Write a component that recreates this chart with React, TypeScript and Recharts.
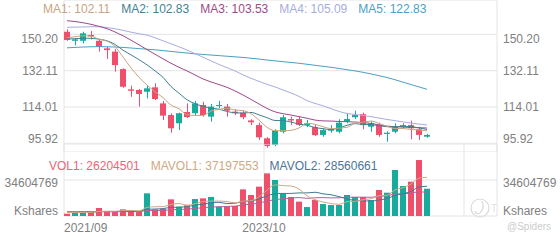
import React from "react";
import { ComposedChart, Bar, Line, XAxis, YAxis, CartesianGrid, Cell } from "recharts";

const months = [
  "2021/09", "2021/10", "2021/11", "2021/12",
  "2022/01", "2022/02", "2022/03", "2022/04", "2022/05", "2022/06", "2022/07", "2022/08", "2022/09", "2022/10", "2022/11", "2022/12",
  "2023/01", "2023/02", "2023/03", "2023/04", "2023/05", "2023/06", "2023/07", "2023/08", "2023/09", "2023/10", "2023/11", "2023/12",
  "2024/01", "2024/02", "2024/03", "2024/04", "2024/05", "2024/06", "2024/07", "2024/08", "2024/09", "2024/10", "2024/11", "2024/12",
  "2025/01", "2025/02", "2025/03", "2025/04", "2025/05", "2025/06",
];

const openP = [151.5, 147.0, 147.0, 149.9, 147.0, 143.2, 141.6, 132.9, 122.8, 122.5, 121.6, 123.8, 115.8, 110.0, 105.9, 111.5, 110.9, 115.0, 109.2, 114.5, 114.2, 111.7, 111.2, 107.3, 105.0, 98.4, 95.1, 101.7, 108.0, 108.0, 105.0, 104.0, 100.1, 102.2, 101.7, 106.7, 108.9, 110.4, 104.2, 105.0, 100.6, 101.7, 104.2, 105.0, 102.9, 99.2];
const highP = [152.7, 148.4, 151.5, 151.9, 147.7, 144.0, 142.8, 133.3, 124.6, 123.0, 124.6, 125.8, 117.0, 110.9, 111.2, 115.8, 117.1, 116.6, 115.5, 117.1, 115.5, 113.0, 112.0, 107.9, 106.2, 99.0, 102.9, 110.0, 109.2, 109.2, 107.5, 105.0, 103.3, 105.0, 107.9, 110.9, 112.2, 111.2, 106.8, 106.2, 101.9, 105.9, 105.9, 107.2, 104.2, 100.6];
const lowP = [147.0, 144.7, 145.7, 147.7, 141.6, 137.9, 131.6, 123.6, 119.1, 114.2, 118.3, 117.5, 107.5, 101.2, 102.5, 108.5, 110.0, 109.2, 106.7, 113.4, 109.2, 110.0, 107.9, 105.0, 97.6, 93.8, 94.5, 100.9, 105.0, 104.5, 104.0, 99.6, 99.2, 101.2, 100.9, 105.9, 108.0, 102.9, 101.7, 99.2, 96.7, 100.9, 103.4, 97.9, 97.6, 98.7];
const closeP = [147.4, 147.7, 150.7, 149.2, 144.0, 142.4, 134.9, 124.1, 122.1, 120.5, 123.3, 118.0, 109.7, 103.4, 110.9, 109.0, 115.8, 110.0, 114.2, 115.0, 112.2, 110.9, 108.9, 106.4, 98.9, 94.6, 102.2, 108.9, 107.3, 105.1, 105.9, 100.0, 102.5, 102.9, 106.2, 108.0, 110.0, 105.0, 105.9, 100.1, 101.2, 104.2, 105.0, 103.4, 100.1, 100.1];

const ma1 = [148.5, 149.0, 149.5, 149.3, 147.8, 146.8, 144.2, 138.9, 133.5, 128.8, 125.0, 121.6, 118.7, 115.0, 113.1, 110.2, 109.8, 109.8, 112.0, 112.8, 113.4, 112.5, 112.2, 110.7, 107.5, 103.9, 102.2, 102.2, 102.4, 103.6, 105.9, 105.4, 104.2, 103.3, 103.5, 103.9, 105.9, 106.4, 107.0, 105.8, 104.4, 103.3, 103.3, 102.8, 102.6, 102.11];
const ma2 = [147.9, 148.0, 148.3, 148.2, 147.8, 147.0, 145.2, 142.3, 140.0, 137.6, 135.0, 132.0, 128.8, 124.2, 120.9, 117.6, 115.7, 114.3, 113.5, 112.9, 111.8, 111.1, 111.0, 111.3, 110.1, 108.7, 107.3, 107.2, 106.5, 105.5, 104.9, 103.8, 103.2, 102.8, 103.6, 104.9, 105.7, 105.3, 105.2, 104.7, 104.2, 104.1, 104.3, 104.2, 103.6, 102.83];
const ma3 = [157.0, 156.6, 156.0, 155.2, 154.2, 153.0, 151.4, 149.5, 147.3, 145.0, 142.6, 140.3, 138.0, 135.8, 133.8, 132.0, 130.0, 128.0, 126.5, 125.2, 123.8, 122.0, 120.0, 117.8, 115.5, 113.3, 111.6, 110.7, 110.0, 109.2, 108.4, 107.5, 107.1, 107.0, 106.8, 106.7, 106.5, 106.3, 105.8, 105.1, 104.5, 104.2, 104.0, 103.8, 103.7, 103.53];
const ma4 = [153.7, 153.8, 153.9, 154.0, 154.0, 153.6, 153.0, 152.2, 151.3, 150.5, 149.8, 148.5, 147.0, 145.5, 144.0, 142.4, 140.6, 138.8, 137.0, 135.2, 133.6, 132.0, 130.0, 128.3, 126.8, 125.3, 124.0, 122.5, 121.0, 119.3, 117.2, 115.8, 114.6, 113.2, 111.8, 110.8, 110.3, 109.8, 109.2, 108.5, 107.8, 107.2, 106.6, 106.0, 105.5, 105.09];
const ma5 = [143.5, 143.7, 143.9, 144.0, 144.1, 144.0, 143.9, 143.7, 143.4, 143.1, 142.8, 142.5, 142.1, 141.7, 141.3, 140.9, 140.5, 140.2, 139.9, 139.6, 139.3, 139.0, 138.7, 138.3, 137.9, 137.4, 137.0, 136.6, 136.2, 135.8, 135.3, 134.8, 134.3, 133.8, 133.2, 132.6, 132.0, 131.3, 130.5, 129.6, 128.7, 127.6, 126.4, 125.2, 124.0, 122.83];

// volumes in millions of shares
const volumeM = [2.2, 3.8, 3.8, 3.8, 7.7, 3.8, 3.8, 6.4, 5.4, 4.5, 21.8, 6.4, 7.0, 16.0, 9.0, 10.9, 16.3, 17.0, 18.3, 9.0, 9.0, 9.6, 25.6, 20.2, 28.2, 41.0, 34.6, 21.8, 18.3, 13.8, 8.6, 15.4, 11.5, 10.6, 10.6, 20.2, 18.3, 18.3, 15.4, 25.0, 22.4, 44.2, 28.8, 33.0, 53.8, 26.204501];
const mavol1 = [3.4, 3.3, 3.4, 3.5, 4.3, 4.6, 4.6, 5.1, 5.4, 4.8, 8.4, 8.9, 9.0, 11.1, 12.0, 9.9, 11.8, 13.8, 14.3, 14.3, 13.9, 12.6, 14.3, 14.7, 18.5, 24.9, 29.9, 29.2, 28.8, 25.9, 19.4, 15.6, 13.5, 12.0, 11.3, 13.7, 14.2, 15.6, 16.6, 19.4, 19.9, 25.1, 27.2, 30.7, 36.4, 37.197553];
const mavol2 = [3.8, 3.8, 3.9, 3.9, 4.2, 4.3, 4.3, 4.5, 4.6, 4.6, 6.5, 6.7, 7.1, 8.3, 8.4, 9.1, 10.4, 11.4, 12.7, 13.2, 11.9, 12.2, 14.1, 14.5, 16.4, 19.4, 21.3, 21.7, 21.7, 22.2, 22.2, 22.8, 21.3, 20.4, 18.6, 16.5, 14.9, 14.6, 14.3, 15.4, 16.8, 19.7, 21.4, 23.6, 27.9, 28.560661];
const mavol3 = [4.0, 4.0, 4.0, 4.0, 4.1, 4.1, 4.1, 4.2, 4.2, 4.3, 5.2, 5.3, 5.4, 6.0, 6.3, 6.6, 7.3, 7.9, 8.6, 8.9, 9.2, 9.5, 10.6, 11.4, 12.4, 14.3, 15.8, 16.6, 17.2, 17.7, 17.0, 17.5, 17.7, 17.4, 17.5, 18.0, 18.1, 18.1, 18.0, 18.8, 19.5, 21.2, 21.4, 22.0, 23.3, 22.6];

const priceTicks = [95.92, 114.01, 132.11, 150.2];
const priceDomain = [91.59, 167.32];
const volumeTicks = [0, 34.604769];
const volumeDomain = [0, 69.209538];
const labelEvery = 25;
const slotCount = 54.125;

const FONT = "'Liberation Sans', Arial, Helvetica, sans-serif";
const AXIS_COLOR = "#808080";
const GRID = "#e4e4e4";
const UP = "#17ab9b";
const DOWN = "#f04f6c";
const C_MA1 = "#c9a47f";
const C_MA2 = "#3f8293";
const C_MA3 = "#a04a87";
const C_MA4 = "#a6addf";
const C_MA5 = "#4c9fc5";
const C_VOL = "#ec6478";
const C_MAVOL1 = "#cfa983";
const C_MAVOL2 = "#4b7596";
const C_MAVOL3 = "#b4629a";

const data = months.map((m, i) => ({
  x: i,
  month: m,
  open: openP[i],
  high: highP[i],
  low: lowP[i],
  close: closeP[i],
  ma1: ma1[i],
  ma2: ma2[i],
  ma3: ma3[i],
  ma4: ma4[i],
  ma5: ma5[i],
  vol: volumeM[i],
  mavol1: mavol1[i],
  mavol2: mavol2[i],
  mavol3: mavol3[i],
}));

// slot edges (left edge of candle) as x grid / label positions
const edgeOffset = 0.375;
const xDomain = [-edgeOffset, slotCount - edgeOffset];
const xTicks = [0, labelEvery, labelEvery * 2].map((i) => i - edgeOffset).concat([slotCount - edgeOffset]);

const last = (a: number[]) => a[a.length - 1];

const Candle = (props: any) => {
  const { x, y, width, height, payload } = props;
  if (!payload || height == null) return null;
  const { open, close, high, low } = payload;
  const up = close >= open;
  const color = up ? UP : DOWN;
  const ratio = height / (high - low);
  const bodyTop = y + (high - Math.max(open, close)) * ratio;
  const bodyH = Math.max(1, Math.abs(open - close) * ratio);
  const cx = Math.floor(x + width / 2) + 0.5;
  return (
    <g>
      <line x1={cx} x2={cx} y1={y} y2={y + height} stroke={color} strokeWidth={1} />
      <rect x={x} y={bodyTop} width={width} height={bodyH} fill={color} />
    </g>
  );
};

const makeYTick = (anchor: "start" | "end", kind: "price" | "vol") => (props: any) => {
  const { x, y, payload } = props;
  const v = payload.value;
  let dy = 4.3;
  let label = "";
  if (kind === "price") {
    label = Number(v).toFixed(2);
    if (v === priceTicks[0]) dy = 0;
    else if (v === priceTicks[priceTicks.length - 1]) dy = 8.4;
  } else {
    if (v === 0) {
      label = "Kshares";
      dy = -1.5;
    } else {
      label = String(Math.round(v * 1e6));
      dy = 6.7;
    }
  }
  return (
    <text x={x} y={y + dy} textAnchor={anchor} fontSize={12} fontFamily={FONT} fill={AXIS_COLOR}>
      {label}
    </text>
  );
};

const XTick = (props: any) => {
  const { x, y, payload } = props;
  const idx = Math.round(payload.value + edgeOffset);
  const label = idx < months.length && idx >= 0 && Math.abs(payload.value + edgeOffset - idx) < 0.01 ? months[idx] : "";
  if (!label) return null;
  return (
    <text x={x} y={y + 15.7} textAnchor={idx === 0 ? "start" : "middle"} fontSize={12} fontFamily={FONT} fill={AXIS_COLOR}>
      {label}
    </text>
  );
};

const legendRow = (items: { text: string; color: string }[], left: number, top: number) => (
  <div
    style={{
      position: "absolute",
      left,
      top,
      display: "flex",
      gap: 11,
      whiteSpace: "nowrap",
      fontFamily: FONT,
      fontSize: 12,
      lineHeight: "14px",
      pointerEvents: "none",
    }}
  >
    {items.map((it) => (
      <span key={it.text} style={{ color: it.color }}>
        {it.text}
      </span>
    ))}
  </div>
);

export default function App() {
  const maLegend = [
    { text: `MA1: ${last(ma1).toFixed(2)}`, color: C_MA1 },
    { text: `MA2: ${last(ma2).toFixed(2)}`, color: C_MA2 },
    { text: `MA3: ${last(ma3).toFixed(2)}`, color: C_MA3 },
    { text: `MA4: ${last(ma4).toFixed(2)}`, color: C_MA4 },
    { text: `MA5: ${last(ma5).toFixed(2)}`, color: C_MA5 },
  ];
  const volLegend = [
    { text: `VOL1: ${Math.round(last(volumeM) * 1e6)}`, color: C_VOL },
    { text: `MAVOL1: ${Math.round(last(mavol1) * 1e6)}`, color: C_MAVOL1 },
    { text: `MAVOL2: ${Math.round(last(mavol2) * 1e6)}`, color: C_MAVOL2 },
  ];

  return (
    <div style={{ position: "absolute", left: 0, top: 0, width: 560, height: 240, background: "#fff", overflow: "hidden" }}>
      {/* watermark */}
      <svg width={560} height={240} style={{ position: "absolute", left: 0, top: 0 }}>
        <circle cx={480} cy={208} r={9} fill="none" stroke="#dadada" strokeWidth={1.2} />
        <path d="M 482 201 Q 485 208 480 213 Q 476 215 475 211" fill="none" stroke="#dadada" strokeWidth={1.2} />
        <text x={491} y={212} fontSize={10} fontFamily={FONT} fill="#e2e2e2">T</text>
        <text x={507} y={230} fontSize={10} fontFamily={FONT} fill="#cbcbcb">@Spiders</text>
      </svg>

      <div style={{ position: "absolute", left: 0, top: 0 }}>
        <ComposedChart width={560} height={152} data={data} margin={{ top: 0, right: 0, bottom: 0, left: 0 }}>
          <CartesianGrid stroke={GRID} yAxisId="p" />
          <XAxis
            dataKey="x"
            type="number"
            domain={xDomain}
            ticks={xTicks}
            allowDataOverflow
            height={0}
            tick={false}
            axisLine={false}
            tickLine={false}
          />
          <YAxis
            yAxisId="p"
            orientation="left"
            width={64}
            domain={priceDomain}
            ticks={priceTicks}
            allowDataOverflow
            axisLine={false}
            tickLine={false}
            tickSize={0}
            tickMargin={6}
            interval={0}
            tick={makeYTick("end", "price")}
          />
          <YAxis
            yAxisId="pr"
            orientation="right"
            width={63}
            domain={priceDomain}
            ticks={priceTicks}
            allowDataOverflow
            axisLine={false}
            tickLine={false}
            tickSize={0}
            tickMargin={6}
            interval={0}
            tick={makeYTick("start", "price")}
          />
          <Bar
            yAxisId="p"
            dataKey={(d: any) => [d.low, d.high]}
            barSize={6}
            isAnimationActive={false}
            shape={(p: any) => <Candle {...p} />}
          />
          <Line yAxisId="p" dataKey="ma5" stroke={C_MA5} strokeWidth={1} dot={false} type="monotone" isAnimationActive={false} />
          <Line yAxisId="p" dataKey="ma4" stroke={C_MA4} strokeWidth={1} dot={false} type="monotone" isAnimationActive={false} />
          <Line yAxisId="p" dataKey="ma3" stroke={C_MA3} strokeWidth={1} dot={false} type="monotone" isAnimationActive={false} />
          <Line yAxisId="p" dataKey="ma2" stroke={C_MA2} strokeWidth={1} dot={false} type="monotone" isAnimationActive={false} />
          <Line yAxisId="p" dataKey="ma1" stroke={C_MA1} strokeWidth={1} dot={false} type="monotone" isAnimationActive={false} />
        </ComposedChart>
      </div>

      <div style={{ position: "absolute", left: 0, top: 144 }}>
        <ComposedChart width={560} height={96} data={data} margin={{ top: 0, right: 0, bottom: 0, left: 0 }}>
          <CartesianGrid stroke={GRID} yAxisId="v" />
          <XAxis
            dataKey="x"
            type="number"
            domain={xDomain}
            ticks={xTicks}
            allowDataOverflow
            height={24}
            axisLine={false}
            tickLine={false}
            tickSize={0}
            tickMargin={0}
            interval={0}
            tick={<XTick />}
          />
          <YAxis
            yAxisId="v"
            orientation="left"
            width={64}
            domain={volumeDomain}
            ticks={volumeTicks}
            allowDataOverflow
            axisLine={false}
            tickLine={false}
            tickSize={0}
            tickMargin={6}
            interval={0}
            tick={makeYTick("end", "vol")}
          />
          <YAxis
            yAxisId="vr"
            orientation="right"
            width={63}
            domain={volumeDomain}
            ticks={volumeTicks}
            allowDataOverflow
            axisLine={false}
            tickLine={false}
            tickSize={0}
            tickMargin={6}
            interval={0}
            tick={makeYTick("start", "vol")}
          />
          <Bar yAxisId="v" dataKey="vol" barSize={6} isAnimationActive={false}>
            {data.map((d, i) => (
              <Cell key={i} fill={d.close >= d.open ? UP : DOWN} />
            ))}
          </Bar>
          <Line yAxisId="v" dataKey="mavol3" stroke={C_MAVOL3} strokeWidth={1} dot={false} type="monotone" isAnimationActive={false} />
          <Line yAxisId="v" dataKey="mavol2" stroke={C_MAVOL2} strokeWidth={1} dot={false} type="monotone" isAnimationActive={false} />
          <Line yAxisId="v" dataKey="mavol1" stroke={C_MAVOL1} strokeWidth={1} dot={false} type="monotone" isAnimationActive={false} />
        </ComposedChart>
      </div>

      {legendRow(maLegend, 43, 2)}
      {legendRow(volLegend, 49, 159)}
    </div>
  );
}
